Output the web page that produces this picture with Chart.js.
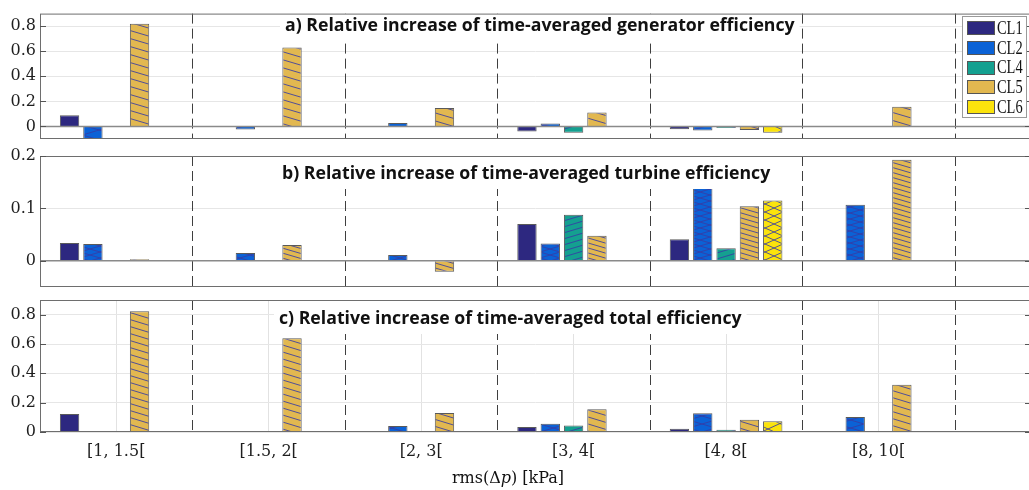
<!DOCTYPE html>
<html lang="en">
<head>
<meta charset="utf-8">
<title>Relative increase of time-averaged efficiency</title>
<script src="https://cdn.jsdelivr.net/npm/chart.js@4.4.1/dist/chart.umd.min.js"></script>
<style>
    html, body { margin: 0; padding: 0; background: #fff; overflow: hidden; }
    .panel { position: absolute; left: 0; top: 0; width: 1031px; height: 490px; }
</style>
</head>
<body>
<div class="panel"><canvas id="graficoA" width="1031" height="490"></canvas></div>
<div class="panel"><canvas id="graficoB" width="1031" height="490"></canvas></div>
<div class="panel"><canvas id="graficoC" width="1031" height="490"></canvas></div>
<script>
// Intervalos de rms(Δp) en kPa y su posición sobre el eje X.
const CATEGORIAS = ['[1, 1.5[', '[1.5, 2[', '[2, 3[', '[3, 4[', '[4, 8[', '[8, 10['];
const POSICIONES = [1, 2, 3, 4, 5, 6];
const SERIES = ['CL1', 'CL2', 'CL4', 'CL5', 'CL6'];

// a) Incremento relativo de la eficiencia media del generador.
const GEN_CL1 = [0.09, null, 0.003, -0.04, -0.023, null];
const GEN_CL2 = [-0.12, -0.025, 0.028, 0.023, -0.033, -0.005];
const GEN_CL4 = [null, null, null, -0.05, -0.012, null];
const GEN_CL5 = [0.82, 0.63, 0.148, 0.112, -0.028, 0.158];
const GEN_CL6 = [null, null, null, null, -0.05, null];

// b) Incremento relativo de la eficiencia media de la turbina.
const TUR_CL1 = [0.034, null, -0.001, 0.07, 0.041, null];
const TUR_CL2 = [0.032, 0.015, 0.011, 0.033, 0.14, 0.107];
const TUR_CL4 = [null, null, null, 0.088, 0.024, null];
const TUR_CL5 = [0.003, 0.03, -0.021, 0.048, 0.104, 0.193];
const TUR_CL6 = [null, null, null, null, 0.115, null];

// c) Incremento relativo de la eficiencia media total.
const TOT_CL1 = [0.123, null, 0.003, 0.034, 0.023, null];
const TOT_CL2 = [null, null, 0.041, 0.057, 0.128, 0.103];
const TOT_CL4 = [null, null, null, 0.045, 0.016, null];
const TOT_CL5 = [0.823, 0.64, 0.13, 0.155, 0.084, 0.322];
const TOT_CL6 = [null, null, null, null, 0.073, null];

// Marcas del eje Y de cada panel.
const MARCAS_A = [0, 0.2, 0.4, 0.6, 0.8];
const MARCAS_B = [0, 0.1, 0.2];
const MARCAS_C = [0, 0.2, 0.4, 0.6, 0.8];

// Colores de relleno y tramas de cada serie (null = relleno liso).
const COLORES = ['#2d2880', '#0b62d6', '#14a090', '#e2b850', '#fbe30c'];
const TRAMAS = [
    null,
    { dirs: [1, -1], pendiente: 0.3, escala: 1.2 },
    { dirs: [-1], pendiente: 0.3, escala: 1.2 },
    { dirs: [1], pendiente: 0.3, escala: 1 },
    { dirs: [1, -1], pendiente: 0.45, escala: 1.6 }
];

const FUENTE_SERIF = 'DejaVu Serif';
const FUENTE_TITULO = 'Open Sans';
// Ancho que ocupa el título del panel superior; fija el tamaño de letra de los tres títulos.
const ANCHO_TITULO = 510;
let tamTitulo = 0;

/*
*   Crea un patrón de líneas inclinadas sobre el color base de la barra.
*   Parámetros: ctx (contexto del canvas), color, trama (direcciones y pendiente) y paso (separación vertical).
*   Retorno: color o CanvasPattern.
*/
const crearTrama = (ctx, color, trama, paso) => {
    if (!trama) return color;
    const alto = Math.round(paso * trama.escala);
    const ancho = Math.max(4, Math.round(alto / trama.pendiente));
    const lienzo = document.createElement('canvas');
    lienzo.width = ancho;
    lienzo.height = alto;
    const c = lienzo.getContext('2d');
    c.fillStyle = color;
    c.fillRect(0, 0, ancho, alto);
    c.strokeStyle = 'rgba(55, 60, 165, 0.85)';
    c.lineWidth = 1;
    trama.dirs.forEach(dir => {
        for (let k = -1; k <= 1; k++) {
            c.beginPath();
            if (dir > 0) {
                c.moveTo(0, k * alto);
                c.lineTo(ancho, (k + 1) * alto);
            } else {
                c.moveTo(0, (k + 1) * alto);
                c.lineTo(ancho, k * alto);
            }
            c.stroke();
        }
    });
    return ctx.createPattern(lienzo, 'repeat');
};

// Dibuja la leyenda dentro del panel superior.
const dibujarLeyenda = (chart) => {
    const ctx = chart.ctx;
    const x0 = 962, y0 = 16, ancho = 65, alto = 102;
    ctx.fillStyle = '#fff';
    ctx.fillRect(x0, y0, ancho, alto);
    ctx.strokeStyle = '#9a9a9a';
    ctx.lineWidth = 1;
    ctx.strokeRect(x0 + 0.5, y0 + 0.5, ancho - 1, alto - 1);
    ctx.font = '18px "Liberation Serif"';
    ctx.textBaseline = 'middle';
    ctx.textAlign = 'left';
    SERIES.forEach((nombre, i) => {
        const yc = 28 + i * 19.8;
        ctx.fillStyle = COLORES[i];
        ctx.fillRect(967, Math.round(yc - 7), 28, 14);
        ctx.strokeStyle = '#555';
        ctx.strokeRect(967.5, Math.round(yc - 7) + 0.5, 27, 13);
        // Texto algo estrecho para que quepa en el recuadro.
        ctx.save();
        ctx.translate(997, yc + 1);
        ctx.scale(0.8, 1);
        ctx.fillStyle = '#111';
        ctx.fillText(nombre, 0, 0);
        ctx.restore();
    });
};

// Dibuja la etiqueta del eje X con la p en cursiva.
const dibujarEtiquetaEje = (chart) => {
    const ctx = chart.ctx;
    const partes = [
        { t: 'rms(Δ', f: '16px "' + FUENTE_SERIF + '"' },
        { t: 'p', f: 'italic 16px "' + FUENTE_SERIF + '"' },
        { t: ') [kPa]', f: '16px "' + FUENTE_SERIF + '"' }
    ];
    let total = 0;
    partes.forEach(p => { ctx.font = p.f; p.w = ctx.measureText(p.t).width; total += p.w; });
    let x = 508 - total / 2;
    ctx.fillStyle = '#111';
    ctx.textBaseline = 'alphabetic';
    ctx.textAlign = 'left';
    partes.forEach(p => { ctx.font = p.f; ctx.fillText(p.t, x, 483); x += p.w; });
};

// Plugin con separadores, línea de cero, marco, marcas, título y leyenda.
const decoracion = {
    id: 'decoracion',
    afterDatasetsDraw(chart, args, op) {
        const { ctx, chartArea: a, scales: { x, y } } = chart;
        ctx.save();

        // Separadores discontinuos entre intervalos.
        ctx.strokeStyle = '#3f3f3f';
        ctx.lineWidth = 1;
        ctx.setLineDash([10, 5]);
        for (let i = 1; i <= POSICIONES.length; i++) {
            const px = Math.round(x.getPixelForValue(i + 0.5)) + 0.5;
            ctx.beginPath();
            ctx.moveTo(px, a.top);
            ctx.lineTo(px, a.bottom);
            ctx.stroke();
        }
        ctx.setLineDash([]);

        // Título con fondo blanco; el tamaño se calcula una vez a partir del primer título.
        if (!tamTitulo) {
            ctx.font = '700 20px "' + FUENTE_TITULO + '"';
            tamTitulo = 20 * ANCHO_TITULO / ctx.measureText(op.titulo).width;
        }
        ctx.font = '700 ' + tamTitulo.toFixed(2) + 'px "' + FUENTE_TITULO + '"';
        const w = ctx.measureText(op.titulo).width;
        const arriba = Math.max(a.top, op.ty - 23);
        ctx.fillStyle = '#fff';
        ctx.fillRect(op.tx - 5, arriba, w + 10, op.ty + 10 - arriba);
        ctx.fillStyle = '#111';
        ctx.textBaseline = 'alphabetic';
        ctx.textAlign = 'left';
        ctx.fillText(op.titulo, op.tx, op.ty);

        // Línea de cero.
        if (op.lineaCero) {
            const py = y.getPixelForValue(0);
            ctx.strokeStyle = '#8a8a8a';
            ctx.lineWidth = 1.5;
            ctx.beginPath();
            ctx.moveTo(a.left, py);
            ctx.lineTo(a.right, py);
            ctx.stroke();
        }

        // Marco del panel.
        ctx.strokeStyle = '#6e6e6e';
        ctx.lineWidth = 1;
        ctx.strokeRect(a.left + 0.5, a.top + 0.5, a.right - a.left - 1, a.bottom - a.top - 1);

        // Marcas hacia dentro en ambos lados.
        ctx.strokeStyle = '#555';
        y.ticks.forEach(t => {
            const py = Math.round(y.getPixelForValue(t.value)) + 0.5;
            ctx.beginPath();
            ctx.moveTo(a.left, py);
            ctx.lineTo(a.left + 6, py);
            ctx.moveTo(a.right - 6, py);
            ctx.lineTo(a.right, py);
            ctx.stroke();
        });

        if (op.leyenda) dibujarLeyenda(chart);
        if (op.etiquetaEje) dibujarEtiquetaEje(chart);
        ctx.restore();
    }
};

/*
*   Crea uno de los tres paneles de barras agrupadas.
*   Parámetros: canvas (id), valores (una lista por serie), marcas (ticks del eje Y),
*   min/max del eje Y, margen (arriba/abajo), paso de la trama y opciones de decoración.
*/
const crearPanel = (canvas, valores, marcas, min, max, margen, paso, extra) => {
    const ctx = document.getElementById(canvas).getContext('2d');
    const fuente = { family: FUENTE_SERIF, size: 16 };
    const datasets = SERIES.map((nombre, i) => ({
        label: nombre,
        data: valores[i],
        backgroundColor: crearTrama(ctx, COLORES[i], TRAMAS[i], paso),
        borderColor: '#5a5a5a',
        borderWidth: 1,
        categoryPercentage: 0.765,
        barPercentage: 0.83,
        clip: 0
    }));
    return new Chart(ctx, {
        type: 'bar',
        data: { labels: POSICIONES, datasets: datasets },
        options: {
            responsive: false,
            animation: false,
            layout: { padding: { top: margen[0], bottom: margen[1], left: 0, right: 0 } },
            plugins: {
                legend: { display: false },
                tooltip: { enabled: false },
                decoracion: extra
            },
            scales: {
                x: {
                    type: 'linear',
                    min: 0.5,
                    max: 7,
                    offset: false,
                    display: extra.etiquetaEje === true,
                    afterBuildTicks: s => { s.ticks = POSICIONES.map(v => ({ value: v })); },
                    afterFit: s => { if (extra.etiquetaEje) s.height = 58; },
                    grid: { offset: false, color: '#e2e2e2', drawTicks: false },
                    border: { display: false },
                    ticks: {
                        font: fuente,
                        color: '#1e1e1e',
                        padding: 10,
                        maxRotation: 0,
                        callback: v => CATEGORIAS[v - 1]
                    }
                },
                y: {
                    min: min,
                    max: max,
                    afterBuildTicks: s => { s.ticks = marcas.map(v => ({ value: v })); },
                    afterFit: s => { s.width = 40; },
                    grid: { color: '#e6e6e6', drawTicks: false },
                    border: { display: false },
                    ticks: { font: fuente, color: '#1e1e1e', padding: 4, callback: v => String(v) }
                }
            }
        },
        plugins: [decoracion]
    });
};

crearPanel('graficoA', [GEN_CL1, GEN_CL2, GEN_CL4, GEN_CL5, GEN_CL6], MARCAS_A, -0.1, 0.9, [8, 351], 8, {
    titulo: 'a) Relative increase of time-averaged generator efficiency', tx: 285, ty: 31,
    lineaCero: true, leyenda: true
});
crearPanel('graficoB', [TUR_CL1, TUR_CL2, TUR_CL4, TUR_CL5, TUR_CL6], MARCAS_B, -0.05, 0.2, [156, 203], 5, {
    titulo: 'b) Relative increase of time-averaged turbine efficiency', tx: 282, ty: 179,
    lineaCero: true
});
crearPanel('graficoC', [TOT_CL1, TOT_CL2, TOT_CL4, TOT_CL5, TOT_CL6], MARCAS_C, 0, 0.9, [300, 0], 7, {
    titulo: 'c) Relative increase of time-averaged total efficiency', tx: 279, ty: 324,
    etiquetaEje: true
});
</script>
</body>
</html>
